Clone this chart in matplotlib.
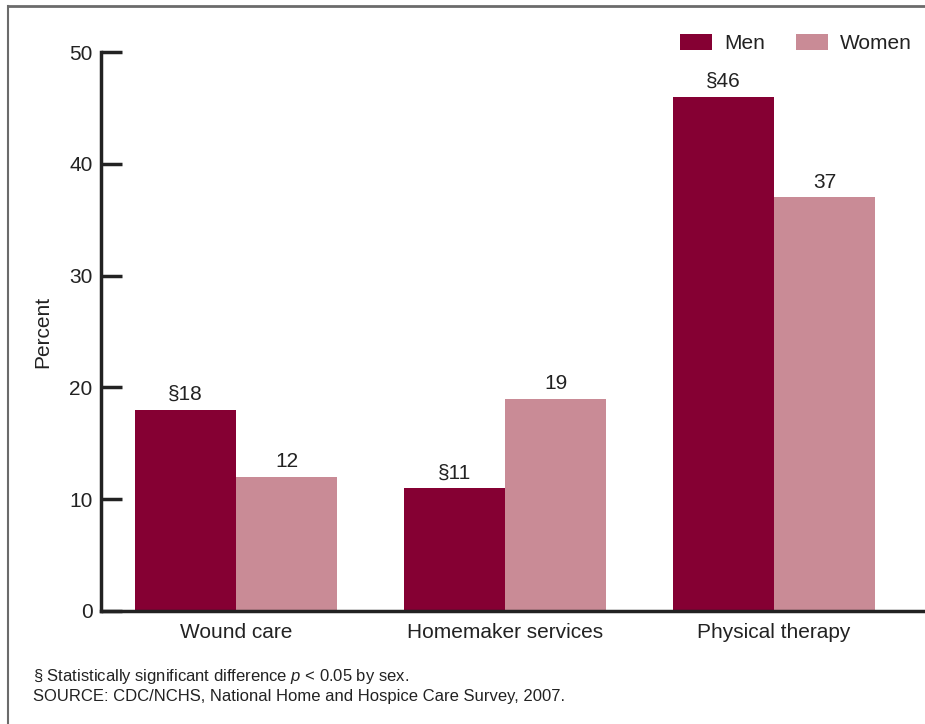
import matplotlib
matplotlib.use("Agg")
from matplotlib import pyplot as plt
from matplotlib.lines import Line2D
import numpy as np

# data
categories = ["Wound care", "Homemaker services", "Physical therapy"]
men = [18, 11, 46]
women = [12, 19, 37]
men_labels = ["§18", "§11", "§46"]
women_labels = ["12", "19", "37"]

plt.rcParams["font.family"] = ["Liberation Sans", "DejaVu Sans"]
plt.rcParams["mathtext.fontset"] = "custom"
plt.rcParams["mathtext.it"] = "Liberation Sans:italic"
plt.rcParams["mathtext.rm"] = "Liberation Sans"

men_color = "#850033"
women_color = "#C98B96"
text_color = "#222222"

W, H = 925, 724
fig = plt.figure(figsize=(W / 100, H / 100), dpi=100)
ax = fig.add_axes([101 / W, (H - 611) / H, (W - 101) / W, 559 / H])

x = np.arange(len(categories))
bw = 0.375
b1 = ax.bar(x - bw / 2, men, bw, color=men_color, label="Men")
b2 = ax.bar(x + bw / 2, women, bw, color=women_color, label="Women")

for rect, lab in zip(b1, men_labels):
    ax.text(rect.get_x() + rect.get_width() / 2, rect.get_height() + 0.5, lab,
            ha="center", va="bottom", fontsize=15, color=text_color)
for rect, lab in zip(b2, women_labels):
    ax.text(rect.get_x() + rect.get_width() / 2, rect.get_height() + 0.5, lab,
            ha="center", va="bottom", fontsize=15, color=text_color)

ax.set_xlim(-0.502, 2.561)
ax.set_ylim(0, 50)
ax.set_yticks([0, 10, 20, 30, 40, 50])
ax.set_xticks(x)
ax.set_xticklabels(categories, fontsize=15, color=text_color)
ax.tick_params(axis="x", length=0, pad=9)
ax.tick_params(axis="y", direction="in", length=15, width=2.5, color=text_color,
               labelsize=15, labelcolor=text_color, pad=6)
for s in ["top", "right"]:
    ax.spines[s].set_visible(False)
for s in ["left", "bottom"]:
    ax.spines[s].set_linewidth(2.5)
    ax.spines[s].set_color(text_color)
ax.set_ylabel("Percent", fontsize=15, color=text_color, labelpad=12)

leg = ax.legend(loc="upper right", bbox_to_anchor=(912 / W, (H - 34) / H),
                bbox_transform=fig.transFigure, ncol=2, frameon=False,
                fontsize=15, handlelength=1.54, handleheight=0.77,
                columnspacing=1.5, handletextpad=0.58,
                borderpad=0, borderaxespad=0)
for t in leg.get_texts():
    t.set_color(text_color)

# footnotes
fig.text(33 / W, 1 - 681 / H, r"§ Statistically significant difference $\mathit{p}$ < 0.05 by sex.",
         fontsize=12, color=text_color, va="baseline")
fig.text(33 / W, 1 - 701 / H, "SOURCE: CDC/NCHS, National Home and Hospice Care Survey, 2007.",
         fontsize=12, color=text_color, va="baseline")

# outer frame (top and left edges)
fig.add_artist(Line2D([8 / W, 1], [1 - 6 / H, 1 - 6 / H], transform=fig.transFigure,
                      color="#6b6b6b", lw=2))
fig.add_artist(Line2D([8 / W, 8 / W], [0, 1 - 6 / H], transform=fig.transFigure,
                      color="#6b6b6b", lw=1.5))

fig.savefig("out.png", dpi=100)
